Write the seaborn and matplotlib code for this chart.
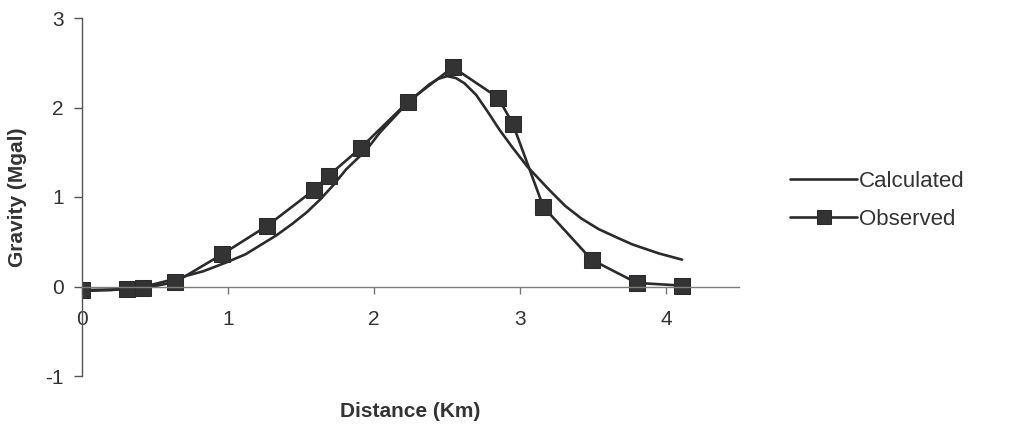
import matplotlib
matplotlib.use("Agg")
import matplotlib.pyplot as plt
import seaborn as sns
import pandas as pd

# Observed data (markers)
obs_x = [0.0, 0.31, 0.42, 0.64, 0.96, 1.27, 1.59, 1.69, 1.91, 2.23, 2.54, 2.85, 2.95, 3.16, 3.49, 3.80, 4.11]
obs_y = [-0.04, -0.03, -0.02, 0.05, 0.36, 0.68, 1.08, 1.24, 1.55, 2.06, 2.45, 2.11, 1.82, 0.89, 0.30, 0.04, 0.01]

# Calculated curve
calc_x = [0.0, 0.2, 0.4, 0.53, 0.67, 0.83, 0.99, 1.12, 1.22, 1.33, 1.44, 1.54, 1.63, 1.72, 1.81, 1.95, 2.04, 2.2,
          2.3, 2.38, 2.44, 2.5, 2.56, 2.62, 2.7, 2.78, 2.86, 2.95, 3.05, 3.2, 3.31, 3.42, 3.54, 3.66, 3.77, 3.95, 4.11]
calc_y = [-0.05, -0.04, -0.01, 0.04, 0.10, 0.17, 0.27, 0.36, 0.46, 0.57, 0.70, 0.83, 0.97, 1.13, 1.31, 1.53, 1.72, 2.00,
          2.15, 2.26, 2.32, 2.35, 2.33, 2.27, 2.14, 1.95, 1.75, 1.55, 1.34, 1.08, 0.90, 0.76, 0.64, 0.55, 0.47, 0.37, 0.30]

x_ticks = [0, 1, 2, 3, 4]
y_ticks = [-1, 0, 1, 2, 3]

sns.set_style("white")
plt.rcParams['font.family'] = ['Liberation Sans', 'DejaVu Sans']
plt.rcParams['axes.unicode_minus'] = False

fig = plt.figure(figsize=(10.30, 4.28), dpi=100)
ax = fig.add_axes([82/1030, 52/428, (739-82)/1030, (376-18)/428])

df_calc = pd.DataFrame({"x": calc_x, "y": calc_y})
df_obs = pd.DataFrame({"x": obs_x, "y": obs_y})

line_col = "#2b2b2b"
sns.lineplot(data=df_calc, x="x", y="y", ax=ax, color=line_col, lw=1.9,
             label="Calculated", sort=False)
sns.lineplot(data=df_obs, x="x", y="y", ax=ax, color=line_col, lw=1.9,
             marker="s", markersize=12, markeredgecolor=line_col,
             markerfacecolor="#333333", label="Observed", sort=False)

ax.set_xlim(0, 4.5)
ax.set_ylim(-1, 3)
ax.set_xticks(x_ticks)
ax.set_yticks(y_ticks)

for s in ["top", "right"]:
    ax.spines[s].set_visible(False)
ax.spines["bottom"].set_position(("data", 0))
ax.spines["left"].set_position(("data", 0))
ax.spines["bottom"].set_color("#8a7a66")
ax.spines["left"].set_color("#555555")
ax.spines["bottom"].set_linewidth(1.0)
ax.spines["left"].set_linewidth(1.0)

ax.tick_params(axis="x", bottom=True, direction="out", length=5, width=1, color="#777777",
               pad=12, labelsize=15, labelcolor="#333333")
ax.tick_params(axis="y", left=True, direction="out", length=6, width=1, color="#555555",
               pad=7, labelsize=15, labelcolor="#333333")

ax.set_xlabel("Distance (Km)", fontsize=15, fontweight="bold", color="#333333", labelpad=0)
ax.set_ylabel("Gravity (Mgal)", fontsize=15, fontweight="bold", color="#333333", labelpad=0)
ax.xaxis.set_label_coords(0.5, -0.072)
ax.yaxis.set_label_coords(-0.084, 0.5)

leg = ax.legend(loc="center left", bbox_to_anchor=(1.078, 0.49), frameon=False,
                borderaxespad=0, borderpad=0,
                fontsize=16, handlelength=3.0, handletextpad=0.1, labelspacing=0.75,
                markerscale=0.8)
for t in leg.get_texts():
    t.set_color("#333333")

fig.savefig("out.png", dpi=100)
